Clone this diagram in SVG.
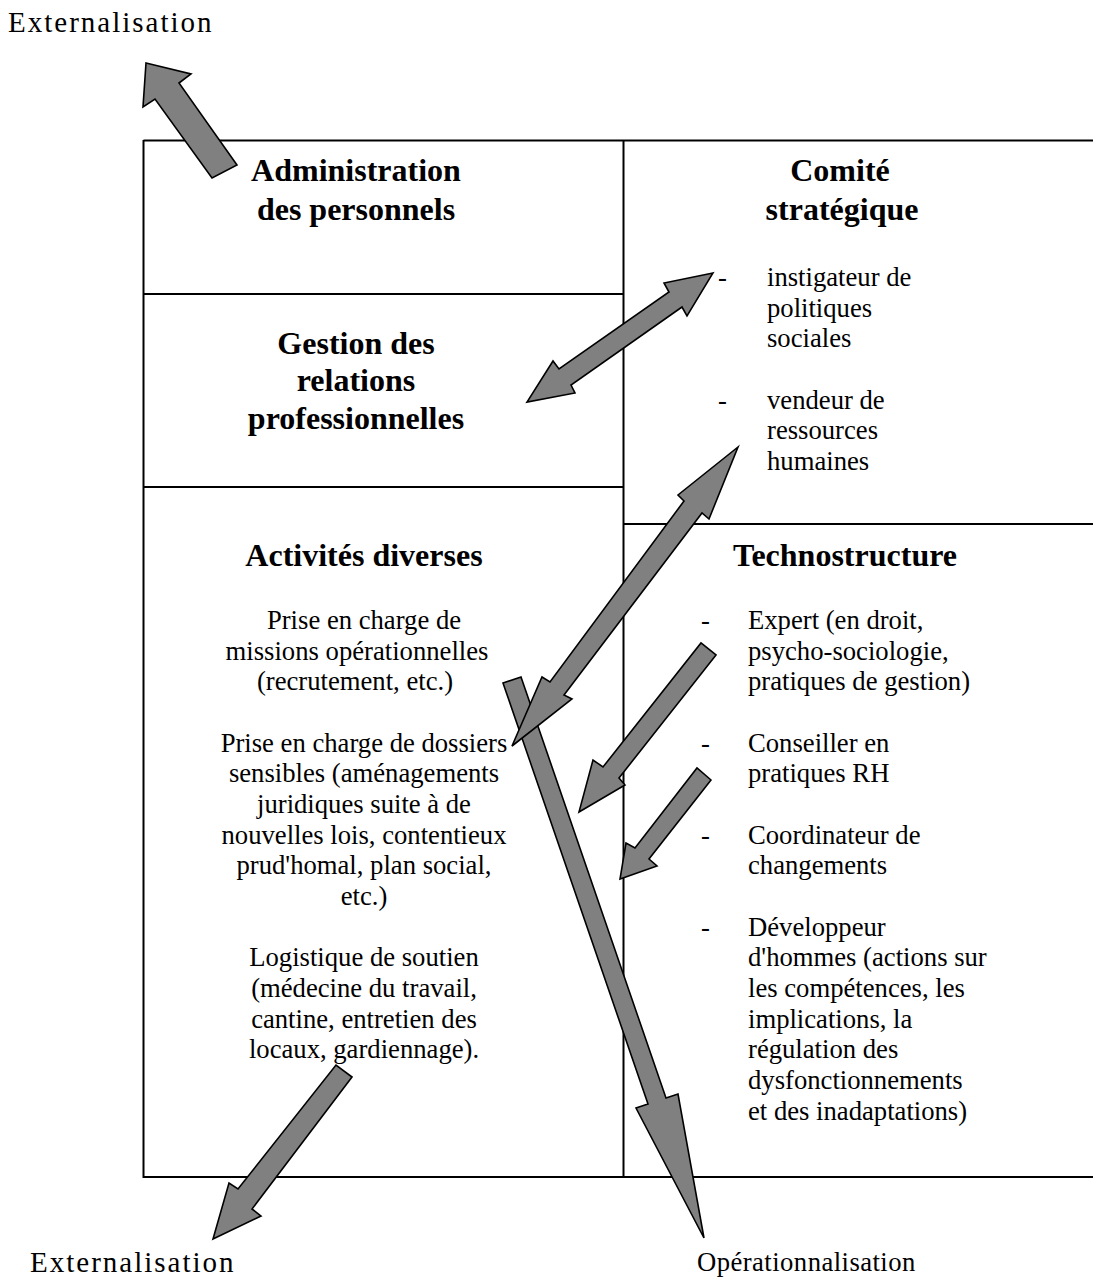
<svg xmlns="http://www.w3.org/2000/svg" width="1093" height="1288" viewBox="0 0 1093 1288">
<style>
text{font-family:"Liberation Serif","Times New Roman",serif;fill:#000}
.b{font-size:26.67px}
.h{font-size:32px;font-weight:bold;text-anchor:middle}
.c{text-anchor:middle}
.ext{font-size:29px;letter-spacing:2px}
.ln{stroke:#000;stroke-width:2;fill:none}
.ar{fill:#808080;stroke:#000;stroke-width:1.6;stroke-linejoin:miter}
</style>
<rect width="1093" height="1288" fill="#fff"/>
<g id="frame">
<line class="ln" x1="143.5" y1="140.5" x2="1093" y2="140.5"/>
<line class="ln" x1="143.5" y1="1177" x2="1093" y2="1177"/>
<line class="ln" x1="143.5" y1="140" x2="143.5" y2="1178"/>
<line class="ln" x1="623.5" y1="140" x2="623.5" y2="1178"/>
<line class="ln" x1="143.5" y1="294" x2="623.5" y2="294"/>
<line class="ln" x1="143.5" y1="487" x2="623.5" y2="487"/>
<line class="ln" x1="623.5" y1="524" x2="1093" y2="524"/>
</g>
<g id="administration">
<text class="h" x="356" y="181">Administration</text>
<text class="h" x="356" y="220">des personnels</text>
</g>
<g id="gestion">
<text class="h" x="356" y="354">Gestion des</text>
<text class="h" x="356" y="391">relations</text>
<text class="h" x="356" y="429">professionnelles</text>
</g>
<g id="activites">
<text class="h" x="364" y="566">Activités diverses</text>
<text class="b c" x="364" y="629">Prise en charge de</text>
<text class="b c" x="357" y="659.7">missions opérationnelles</text>
<text class="b c" x="355" y="690.3">(recrutement, etc.)</text>
<text class="b c" x="364" y="751.7">Prise en charge de dossiers</text>
<text class="b c" x="364" y="782.3">sensibles (aménagements</text>
<text class="b c" x="364" y="813">juridiques suite à de</text>
<text class="b c" x="364" y="843.7">nouvelles lois, contentieux</text>
<text class="b c" x="364" y="874.3">prud'homal, plan social,</text>
<text class="b c" x="364" y="905">etc.)</text>
<text class="b c" x="364" y="966.3">Logistique de soutien</text>
<text class="b c" x="364" y="997">(médecine du travail,</text>
<text class="b c" x="364" y="1027.7">cantine, entretien des</text>
<text class="b c" x="364" y="1058.3">locaux, gardiennage).</text>
</g>
<g id="comite">
<text class="h" x="840" y="181">Comité</text>
<text class="h" x="842" y="220">stratégique</text>
<text class="b" x="718" y="286">-</text>
<text class="b" x="767" y="286">instigateur de</text>
<text class="b" x="767" y="316.7">politiques</text>
<text class="b" x="767" y="347.3">sociales</text>
<text class="b" x="718" y="408.7">-</text>
<text class="b" x="767" y="408.7">vendeur de</text>
<text class="b" x="767" y="439.3">ressources</text>
<text class="b" x="767" y="470">humaines</text>
</g>
<g id="technostructure">
<text class="h" x="845" y="566">Technostructure</text>
<text class="b" x="701" y="629">-</text>
<text class="b" x="748" y="629">Expert (en droit,</text>
<text class="b" x="748" y="659.7">psycho-sociologie,</text>
<text class="b" x="748" y="690.3">pratiques de gestion)</text>
<text class="b" x="701" y="751.7">-</text>
<text class="b" x="748" y="751.7">Conseiller en</text>
<text class="b" x="748" y="782.3">pratiques RH</text>
<text class="b" x="701" y="843.7">-</text>
<text class="b" x="748" y="843.7">Coordinateur de</text>
<text class="b" x="748" y="874.3">changements</text>
<text class="b" x="701" y="935.7">-</text>
<text class="b" x="748" y="935.7">Développeur</text>
<text class="b" x="748" y="966.3">d'hommes (actions sur</text>
<text class="b" x="748" y="997">les compétences, les</text>
<text class="b" x="748" y="1027.7">implications, la</text>
<text class="b" x="748" y="1058.3">régulation des</text>
<text class="b" x="748" y="1089">dysfonctionnements</text>
<text class="b" x="748" y="1119.7">et des inadaptations)</text>
</g>
<g id="labels">
<text class="b ext" x="8" y="32">Externalisation</text>
<text class="b ext" x="30" y="1272">Externalisation</text>
<text class="b" x="697" y="1271" letter-spacing="0.45">Opérationnalisation</text>
</g>
<g id="connectors">
<polygon class="ar" points="146,63 191,74 179,83 237,165 212,178 155,99 143,107"/>
<polygon class="ar" points="713,273 664,283 669,292 559,369 553,361 527,402 575,393 571,385 682,307 687,316"/>
<polygon class="ar" points="503,683 521,677 666,1098 678,1094 704,1238 636,1108 648,1104"/>
<polygon class="ar" points="738,447 678,495 684,501 550,682 542,677 512,746 572,699 564,695 702,513 709,519"/>
<polygon class="ar" points="716,655 619,778 625,785 579,812 593,760 603,767 701,643"/>
<polygon class="ar" points="711,780 649,859 657,866 620,879 626,843 635,848 697,768"/>
<polygon class="ar" points="352,1077 252,1209 261,1216 213,1239 229,1183 238,1189 336,1065"/>
</g>
</svg>
